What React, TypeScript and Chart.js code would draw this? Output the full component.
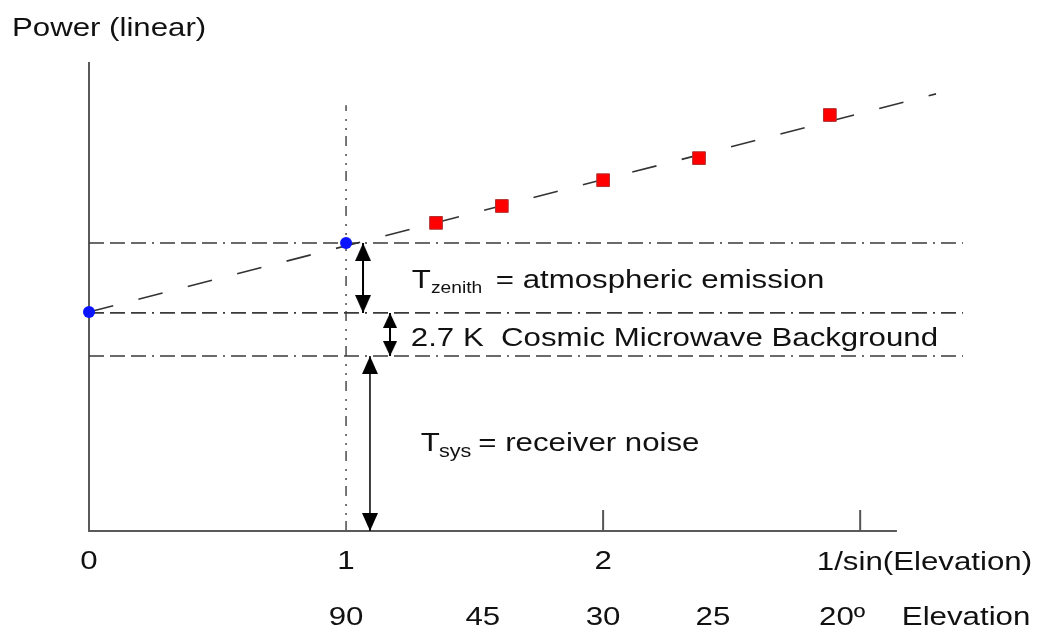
import React, { useEffect, useRef } from "react";
import { Chart, registerables } from "chart.js";

Chart.register(...registerables);

// ---------- data ----------
const yAxisTitle = "Power (linear)";
const xTickValues = [0, 1, 2];
const xTickLabels = ["0", "1", "2"];
const xTickMarks = [2, 3];
const xAxisTitle = "1/sin(Elevation)";
const elevationLabels = ["90", "45", "30", "25", "20º"];
const elevationPositions = [1, 1.532, 2, 2.427, 2.93];
const elevationTitle = "Elevation";

const zenithX = [0, 1];
const zenithY = [46.7, 61.4];
const skyDipX = [1.35, 1.606, 2.0, 2.373, 2.882];
const skyDipY = [65.7, 69.3, 74.8, 79.5, 88.7];
const fitX = [0, 3.295];
const fitY = [46.7, 93.2];

const levelNames = ["Tsys", "CMB", "Tzenith"];
const levelValues = [37.3, 46.5, 61.4];

const xMin = 0;
const xMax = 3.4;
const xAxisEnd = 3.143;
const yMin = 0;
const yMax = 100;
const zenithLineTop = 90.8;
const tickMarkHeight = 4.5;

const FONT = '"Liberation Sans", Arial, sans-serif';

function makeHead(w: number, h: number, up: boolean) {
  const c = document.createElement("canvas");
  c.width = w;
  c.height = h * 2;
  const g = c.getContext("2d")!;
  g.fillStyle = "#000";
  g.beginPath();
  if (up) {
    g.moveTo(w / 2, h);
    g.lineTo(0, 2 * h);
    g.lineTo(w, 2 * h);
  } else {
    g.moveTo(0, 0);
    g.lineTo(w, 0);
    g.lineTo(w / 2, h);
  }
  g.closePath();
  g.fill();
  return c;
}

const textPlugin = {
  id: "texts",
  afterDatasetsDraw(chart: any) {
    const { ctx, chartArea } = chart;
    const xs = chart.scales.x;
    const ys = chart.scales.y;
    const color = "#111";
    const draw = (
      s: string,
      px: number,
      py: number,
      size: number,
      sx: number,
      align: CanvasTextAlign = "left"
    ) => {
      ctx.save();
      ctx.font = `${size}px ${FONT}`;
      ctx.fillStyle = color;
      ctx.textAlign = align;
      ctx.textBaseline = "alphabetic";
      ctx.translate(px, py);
      ctx.scale(sx, 1);
      ctx.fillText(s, 0, 0);
      const w = ctx.measureText(s).width * sx;
      ctx.restore();
      return w;
    };

    // y axis title
    draw(yAxisTitle, chartArea.left - 77, chartArea.top - 26, 26, 1.2);

    // x tick labels
    const tickBase = chartArea.bottom + 38;
    xTickValues.forEach((v, i) => {
      draw(xTickLabels[i], xs.getPixelForValue(v), tickBase, 25, 1.25, "center");
    });
    draw(xAxisTitle, xs.getPixelForValue(3.25), tickBase + 1, 25, 1.25, "center");

    // elevation row
    const elevBase = chartArea.bottom + 94;
    elevationLabels.forEach((l, i) => {
      draw(l, xs.getPixelForValue(elevationPositions[i]), elevBase, 25, 1.25, "center");
    });
    draw(elevationTitle, xs.getPixelForValue(3.162), elevBase, 25, 1.25, "left");

    // annotations
    // T_zenith
    let px = xs.getPixelForValue(1.256);
    let py = ys.getPixelForValue(51.8);
    let w = draw("T", px, py, 26, 1.2);
    let w2 = draw("zenith", px + w, py + 5, 16, 1.2);
    draw(" = atmospheric emission", px + w + w2 + 5, py, 26, 1.2);

    // CMB
    px = xs.getPixelForValue(1.252);
    py = ys.getPixelForValue(39.4);
    draw("2.7 K  Cosmic Microwave Background", px, py, 26, 1.2);

    // T_sys
    px = xs.getPixelForValue(1.291);
    py = ys.getPixelForValue(17.1);
    w = draw("T", px, py, 26, 1.2);
    w2 = draw("sys", px + w - 1, py + 6, 18, 1.2);
    draw("= receiver noise", px + w + w2 + 6, py, 26, 1.2);
  },
};

export default function App() {
  const ref = useRef<HTMLCanvasElement | null>(null);

  useEffect(() => {
    if (!ref.current) return;
    const bigUp = makeHead(16, 18, true);
    const bigDown = makeHead(16, 18, false);
    const smallUp = makeHead(14, 15, true);
    const smallDown = makeHead(14, 15, false);

    const seg = (x1: number, y1: number, x2: number, y2: number) => [
      { x: x1, y: y1 },
      { x: x2, y: y2 },
    ];

    const tickData: any[] = [];
    xTickMarks.forEach((t, i) => {
      if (i > 0) tickData.push({ x: (t + xTickMarks[i - 1]) / 2, y: null });
      tickData.push({ x: t, y: 0 }, { x: t, y: tickMarkHeight });
    });

    const levelDash = [15, 6, 15, 6, 15, 6, 2, 6];
    const lineBase = {
      showLine: true,
      pointRadius: 0,
      fill: false,
      clip: false as any,
      tension: 0,
    };

    const datasets: any[] = [
      {
        label: "zenith points",
        data: zenithX.map((x, i) => ({ x, y: zenithY[i] })),
        pointStyle: "circle",
        pointRadius: 6,
        backgroundColor: "#0a14ff",
        borderColor: "#0a14ff",
        borderWidth: 0,
        showLine: false,
        clip: false,
      },
      {
        label: "sky dip",
        data: skyDipX.map((x, i) => ({ x, y: skyDipY[i] })),
        pointStyle: "rect",
        pointRadius: 9,
        backgroundColor: "#ff0000",
        borderColor: "#b03030",
        borderWidth: 1,
        showLine: false,
        clip: false,
      },
      {
        ...lineBase,
        label: "zenith arrow",
        data: seg(1.066, levelValues[2], 1.066, levelValues[1]),
        borderColor: "#000",
        borderWidth: 2,
        pointRadius: 2,
        pointStyle: [bigUp, bigDown],
      },
      {
        ...lineBase,
        label: "cmb arrow",
        data: seg(1.171, levelValues[1], 1.171, levelValues[0]),
        borderColor: "#000",
        borderWidth: 2,
        pointRadius: 2,
        pointStyle: [smallUp, smallDown],
      },
      {
        ...lineBase,
        label: "tsys arrow",
        data: seg(1.093, levelValues[0], 1.093, 0),
        borderColor: "#000",
        borderWidth: 1.5,
        pointRadius: 2,
        pointStyle: [bigUp, bigDown],
      },
      {
        ...lineBase,
        label: "fit",
        data: fitX.map((x, i) => ({ x, y: fitY[i] })),
        borderColor: "#333",
        borderWidth: 1.6,
        borderDash: [25, 26],
      },
      ...levelValues.map((v, i) => ({
        ...lineBase,
        label: levelNames[i],
        data: seg(xMin, v, xMax, v),
        borderColor: "#3a3a3a",
        borderWidth: 1.6,
        borderDash: levelDash,
      })),
      {
        ...lineBase,
        label: "x=1",
        data: seg(1, 0, 1, zenithLineTop),
        borderColor: "#555",
        borderWidth: 1.6,
        borderDash: [10, 6, 2, 7, 2, 8],
      },
      {
        ...lineBase,
        label: "ticks",
        data: tickData,
        borderColor: "#555",
        borderWidth: 2,
        spanGaps: false,
      },
      {
        ...lineBase,
        label: "axes",
        data: [
          { x: 0, y: yMax },
          { x: 0, y: 0 },
          { x: xAxisEnd, y: 0 },
        ],
        borderColor: "#5a5a5a",
        borderWidth: 2,
      },
    ];

    const chart = new Chart(ref.current, {
      type: "scatter",
      data: { datasets },
      options: {
        animation: false,
        responsive: false,
        events: [],
        layout: { padding: { left: 89, right: 74, top: 62, bottom: 97 } },
        plugins: { legend: { display: false }, tooltip: { enabled: false } },
        scales: {
          x: { type: "linear", min: xMin, max: xMax, display: false },
          y: { type: "linear", min: yMin, max: yMax, display: false },
        },
      },
      plugins: [textPlugin],
    });
    return () => chart.destroy();
  }, []);

  return (
    <div style={{ position: "absolute", left: 0, top: 0, width: 1037, height: 628, background: "#fff" }}>
      <canvas ref={ref} width={1037} height={628} style={{ width: 1037, height: 628, display: "block" }} />
    </div>
  );
}
